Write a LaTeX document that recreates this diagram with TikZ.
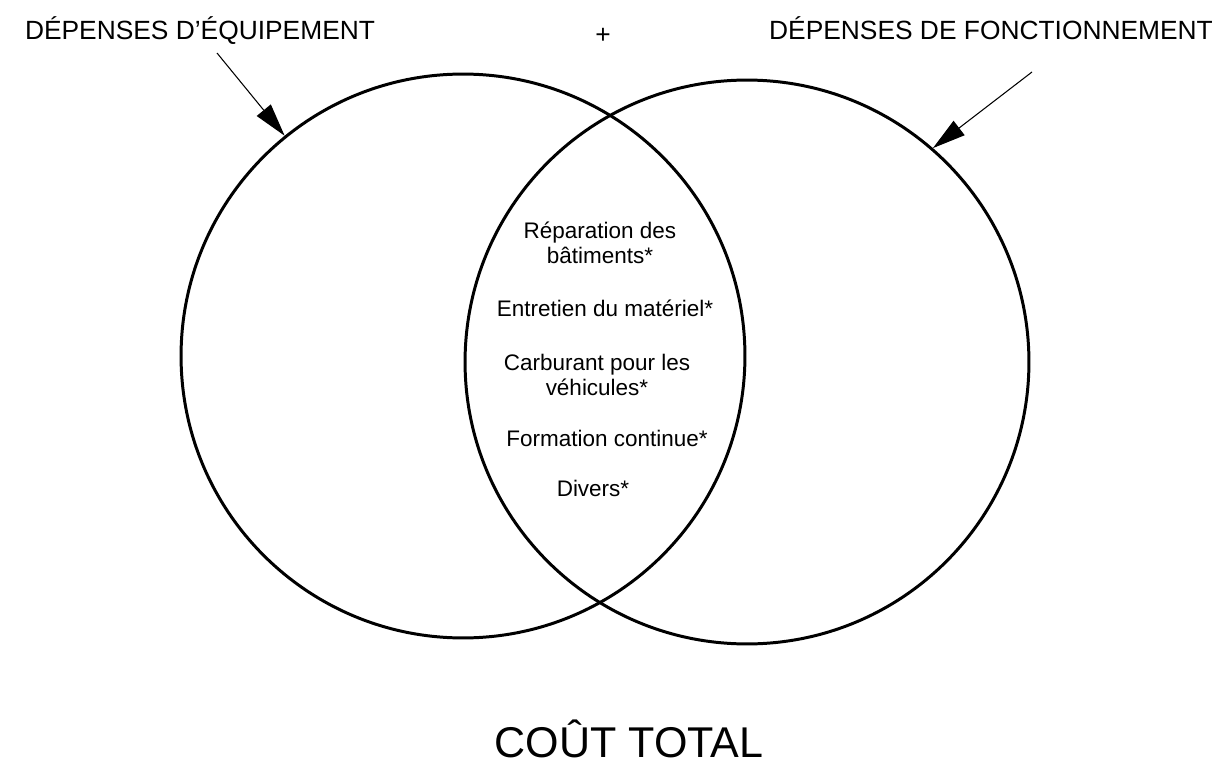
\documentclass[tikz,border=0pt]{standalone}
\usepackage{fontspec}
\setmainfont{Liberation Sans}
\usetikzlibrary{arrows.meta}

\begin{document}
\begin{tikzpicture}[x=0.02cm,y=-0.02cm]
\tikzstyle{budget}=[circle,draw,line width=1.7pt,minimum size=11.28cm,inner sep=0pt]
\tikzstyle{titre}=[font=\fontsize{15}{18}\selectfont,inner sep=0pt,anchor=base]
\tikzstyle{poste}=[font=\fontsize{12.8}{14.2}\selectfont,align=center,inner sep=0pt]
\tikzstyle{fleche}=[line width=0.6pt,-{Triangle[length=0.66cm,width=0.36cm]}]
\useasboundingbox (0,0) rectangle (1221,767);

\node[budget](equip) at (463,356) {};
\node[budget](fonct) at (747,362) {};

\node[titre](lblequip) at (200,40) {DÉPENSES D’ÉQUIPEMENT};
\node[titre](lblfonct) at (991,40) {DÉPENSES DE FONCTIONNEMENT};
\node[titre,anchor=center](plus) at (603,36) {+};
\node[titre,font=\fontsize{24.5}{28}\selectfont](total) at (629,757) {COÛT TOTAL};

\node[poste](rep) at (600,243) {Réparation des\\bâtiments*};
\node[poste](ent) at (605,308) {Entretien du matériel*};
\node[poste](carb) at (597,375) {Carburant pour les\\véhicules*};
\node[poste](form) at (607,438) {Formation continue*};
\node[poste](div) at (593,488) {Divers*};

\coordinate (queueequip) at (217,53);
\coordinate (queuefonct) at (1032,72);
\draw[fleche] (queueequip) -> (equip.129);
\draw[fleche] (queuefonct) -> (fonct.49);
\end{tikzpicture}
\end{document}
